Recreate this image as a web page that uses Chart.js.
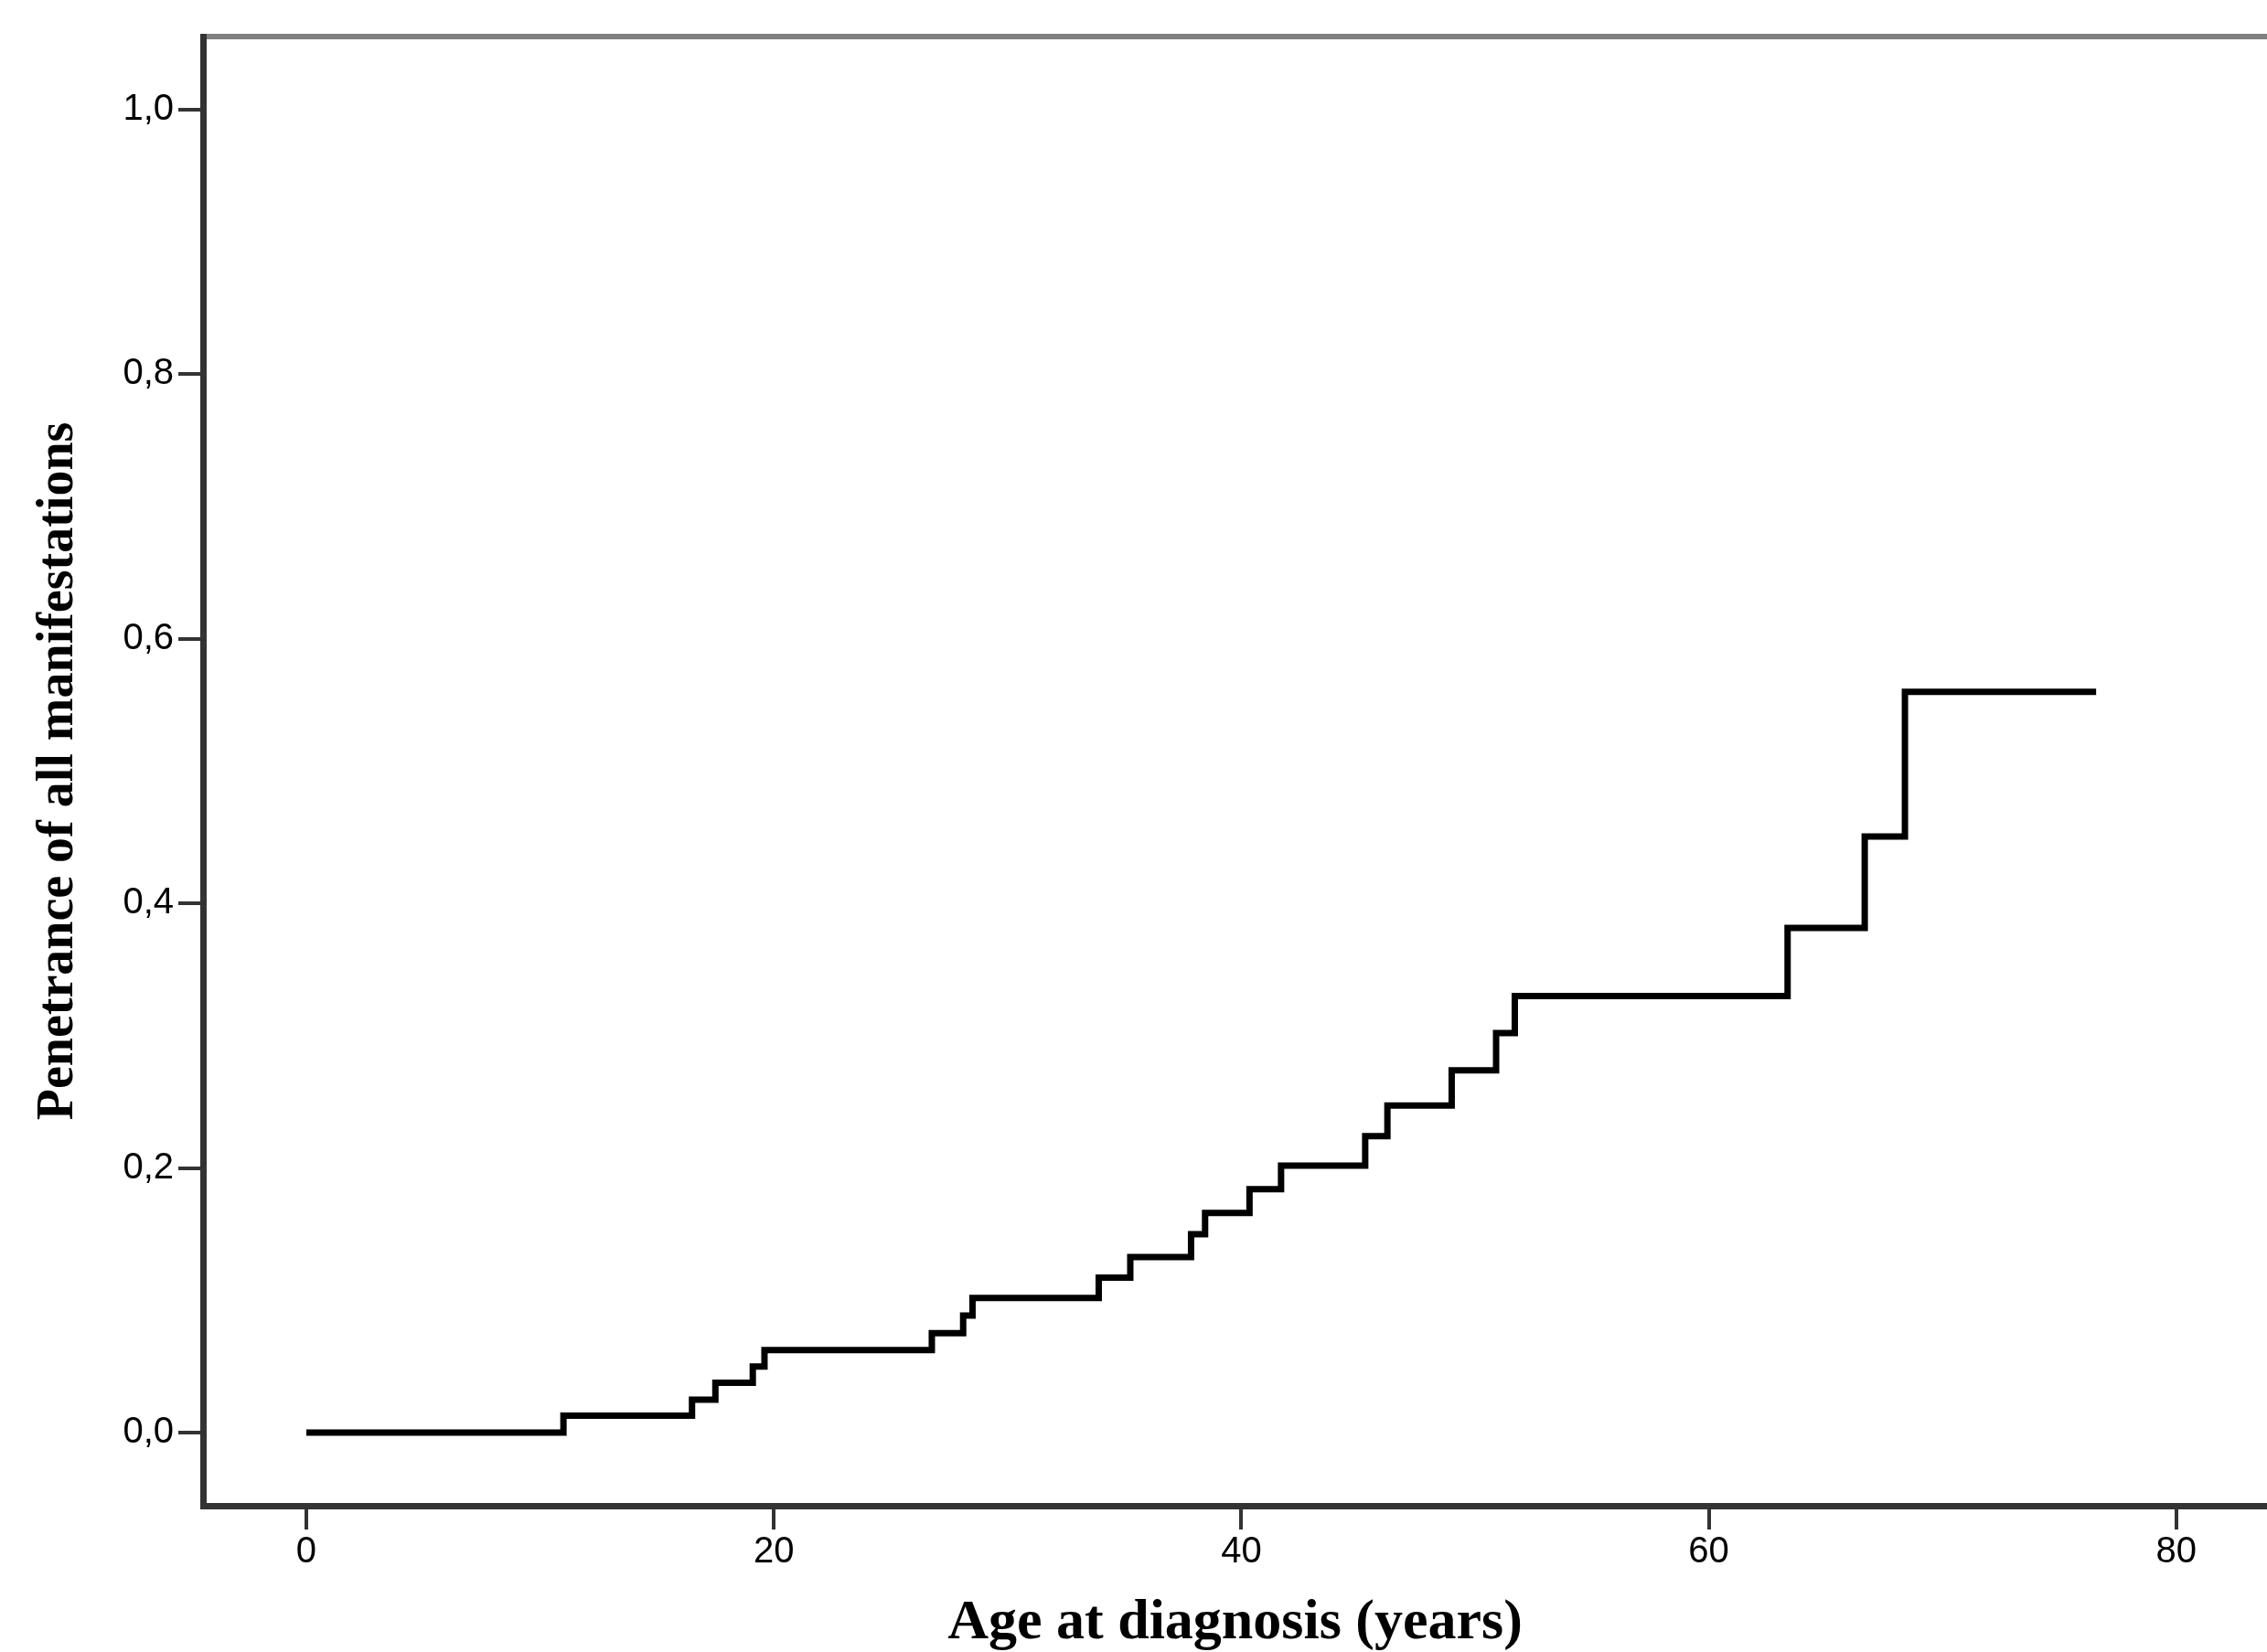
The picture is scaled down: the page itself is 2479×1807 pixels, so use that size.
<!DOCTYPE html>
<html>
<head>
<meta charset="utf-8">
<script src="https://cdn.jsdelivr.net/npm/chart.js@4/dist/chart.umd.min.js"></script>
<style>
  html, body { margin: 0; padding: 0; background: #ffffff; overflow: hidden; }
  canvas { display: block; }
</style>
</head>
<body>
<canvas id="c" width="2479" height="1807"></canvas>
<script>
// Kaplan-Meier style cumulative penetrance
const ages       = [0, 11.0, 16.5, 17.5, 19.1, 19.6, 26.76, 28.1, 28.5, 33.9, 35.25, 37.85, 38.45, 40.35, 41.7, 45.3, 46.25, 49.0, 50.9, 51.7, 63.37, 66.67, 68.39, 76.57];
const penetrance = [0, 0.0128, 0.0249, 0.0377, 0.050, 0.0624, 0.0751, 0.0885, 0.1018, 0.1172, 0.1326, 0.150, 0.166, 0.184, 0.2018, 0.2241, 0.2472, 0.2739, 0.302, 0.330, 0.3815, 0.4506, 0.560, 0.560];
const xTicks = [0, 20, 40, 60, 80];
const yTicks = [0, 0.2, 0.4, 0.6, 0.8, 1.0];
const xTitle = 'Age at diagnosis (years)';
const yTitle = 'Penetrance of all manifestations';

const points = ages.map((a, i) => ({ x: a, y: penetrance[i] }));

const X_MIN = -4.42, X_MAX = 83.88;
const Y_MIN = -0.0553, Y_MAX = 1.0553;

const tickFont = { family: 'Liberation Sans', size: 40 };
const yTitleFont = { family: 'Liberation Serif', size: 56, weight: 'bold' };
const xTitleFont = { family: 'Liberation Serif', size: 62, weight: 'bold', lineHeight: 1.0 };

new Chart(document.getElementById('c'), {
  type: 'line',
  data: {
    datasets: [{
      data: points,
      stepped: 'before',
      borderColor: '#000000',
      borderWidth: 7,
      pointRadius: 0,
      fill: false,
      tension: 0
    }]
  },
  options: {
    responsive: false,
    devicePixelRatio: 1,
    animation: false,
    layout: { padding: 0, autoPadding: false },
    plugins: { legend: { display: false }, tooltip: { enabled: false } },
    scales: {
      x: {
        type: 'linear',
        position: 'bottom',
        min: X_MIN, max: X_MAX,
        afterBuildTicks: s => { s.ticks = xTicks.map(v => ({ value: v })); },
        afterFit: s => { s.height = 160; },
        ticks: {
          font: tickFont, color: '#000000', padding: 1, maxRotation: 0,
          callback: v => String(v)
        },
        grid: { drawOnChartArea: false, drawTicks: true, tickLength: 26, lineWidth: 4, color: '#333333' },
        border: { display: true, color: '#333333', width: 7 },
        title: { display: true, text: xTitle, font: xTitleFont, color: '#000000', padding: { top: 0, bottom: 0 } }
      },
      x2: {
        type: 'linear',
        position: 'top',
        min: X_MIN, max: X_MAX,
        afterFit: s => { s.height = 40; },
        ticks: { display: false },
        grid: { display: false, drawTicks: false },
        border: { display: true, color: '#808080', width: 6 }
      },
      y: {
        type: 'linear',
        position: 'left',
        min: Y_MIN, max: Y_MAX,
        afterBuildTicks: s => { s.ticks = yTicks.map(v => ({ value: v })); },
        afterFit: s => { s.width = 222; },
        ticks: {
          font: tickFont, color: '#000000', padding: 5,
          callback: v => Number(v).toFixed(1).replace('.', ',')
        },
        grid: { drawOnChartArea: false, drawTicks: true, tickLength: 27, lineWidth: 4, color: '#333333' },
        border: { display: true, color: '#333333', width: 7 },
        title: { display: true, text: yTitle, font: yTitleFont, color: '#000000', padding: { top: 31, bottom: 0 } }
      }
    }
  }
});
</script>
</body>
</html>
